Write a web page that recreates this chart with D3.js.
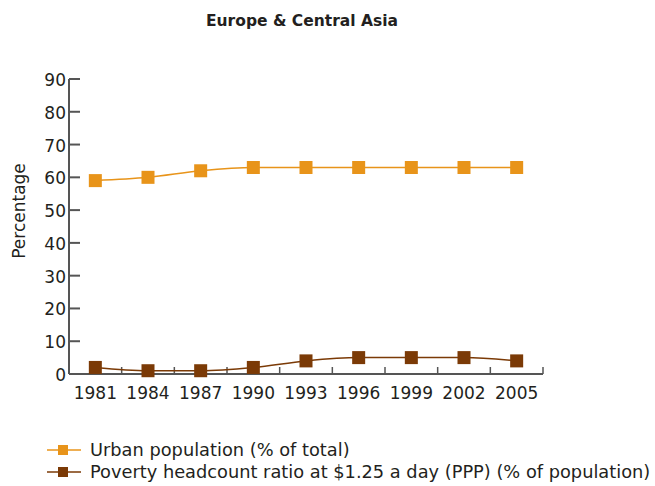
<!DOCTYPE html>
<html>
<head>
<meta charset="utf-8">
<script src="https://cdn.jsdelivr.net/npm/d3@7"></script>
<style>
  body { margin: 0; background: #fff; }
  text { font-family: "DejaVu Sans", sans-serif; fill: #231f20; }
</style>
</head>
<body>
<div id="chart"></div>
<script>
const years = ["1981", "1984", "1987", "1990", "1993", "1996", "1999", "2002", "2005"];
const urban = [59, 60, 62, 63, 63, 63, 63, 63, 63];
const poverty = [2, 1, 1, 2, 4, 5, 5, 5, 4];
const yTicks = [0, 10, 20, 30, 40, 50, 60, 70, 80, 90];
const seriesNames = ["Urban population (% of total)", "Poverty headcount ratio at $1.25 a day (PPP) (% of population)"];
const colors = ["#e8941a", "#7b3a06"];

let w = 655, h = 486;
let mLeft = 69, mRight = 543, mTop = 79, mBottom = 374;

let svg = d3.select("#chart").append("svg")
    .attr("width", w)
    .attr("height", h);

let x = d3.scaleBand().domain(years).range([mLeft, mRight]);
let y = d3.scaleLinear().domain([0, 90]).range([mBottom, mTop]);

// title
svg.append("text")
    .attr("x", 302).attr("y", 26)
    .attr("text-anchor", "middle")
    .attr("font-size", "15.5px")
    .attr("font-weight", "bold")
    .text("Europe & Central Asia");

// y axis
svg.append("line")
    .attr("x1", mLeft).attr("x2", mLeft)
    .attr("y1", mTop).attr("y2", mBottom)
    .attr("stroke", "#555").attr("stroke-width", 2);
svg.selectAll(".ytick")
    .data(yTicks)
    .enter()
    .append("line")
    .attr("x1", mLeft).attr("x2", mLeft + 11)
    .attr("y1", d => y(d)).attr("y2", d => y(d))
    .attr("stroke", "#555").attr("stroke-width", 2);
svg.selectAll(".ylab")
    .data(yTicks)
    .enter()
    .append("text")
    .attr("x", mLeft - 3)
    .attr("y", d => y(d) + 7)
    .attr("text-anchor", "end")
    .attr("font-size", "17px")
    .text(d => d);

svg.append("text")
    .attr("transform", "translate(25,211) rotate(-90)")
    .attr("text-anchor", "middle")
    .attr("font-size", "17px")
    .text("Percentage");

// x axis
svg.append("line")
    .attr("x1", mLeft).attr("x2", mRight)
    .attr("y1", mBottom).attr("y2", mBottom)
    .attr("stroke", "#555").attr("stroke-width", 2);
svg.selectAll(".xtick")
    .data(years)
    .enter()
    .append("line")
    .attr("x1", d => x(d) + x.bandwidth())
    .attr("x2", d => x(d) + x.bandwidth())
    .attr("y1", mBottom).attr("y2", mBottom - 7)
    .attr("stroke", "#555").attr("stroke-width", 1.5);
svg.selectAll(".xlab")
    .data(years)
    .enter()
    .append("text")
    .attr("x", d => x(d) + x.bandwidth() / 2)
    .attr("y", mBottom + 25)
    .attr("text-anchor", "middle")
    .attr("font-size", "17px")
    .text(d => d);

// series
let line = d3.line()
    .x((d, i) => x(years[i]) + x.bandwidth() / 2)
    .y(d => y(d))
    .curve(d3.curveMonotoneX);

[urban, poverty].forEach(function (s, k) {
    svg.append("path")
        .datum(s)
        .attr("d", line)
        .attr("fill", "none")
        .attr("stroke", colors[k])
        .attr("stroke-width", 1.5);
    svg.selectAll(".pt" + k)
        .data(s)
        .enter()
        .append("rect")
        .attr("x", (d, i) => x(years[i]) + x.bandwidth() / 2 - 6.5)
        .attr("y", d => y(d) - 6.5)
        .attr("width", 13)
        .attr("height", 13)
        .attr("fill", colors[k]);
});

// legend
seriesNames.forEach(function (n, k) {
    let ly = 450 + k * 22;
    svg.append("line")
        .attr("x1", 47).attr("x2", 81)
        .attr("y1", ly).attr("y2", ly)
        .attr("stroke", colors[k]).attr("stroke-width", 1.5);
    svg.append("rect")
        .attr("x", 58).attr("y", ly - 5)
        .attr("width", 10).attr("height", 10)
        .attr("fill", colors[k]);
    svg.append("text")
        .attr("x", 90).attr("y", ly + 6)
        .attr("font-size", "17.8px")
        .text(n);
});
</script>
</body>
</html>
